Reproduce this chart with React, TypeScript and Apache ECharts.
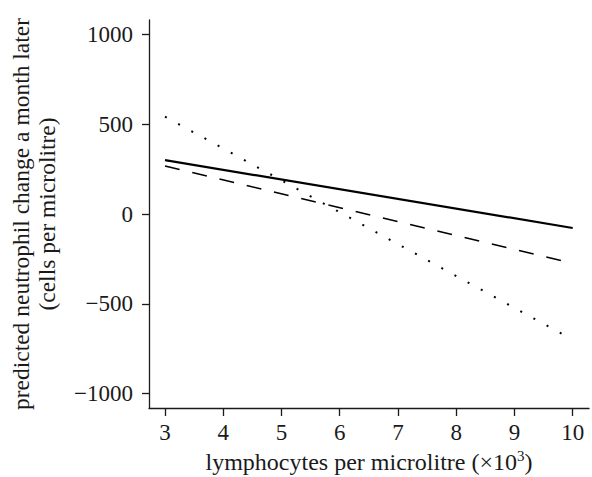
import React, { useEffect, useRef } from "react";
import * as echarts from "echarts";

const xEnds = [3, 10];
const solidValues = [300, -78];
const dashedValues = [267, -275];
const dottedValues = [542, -700];
const xTicks = [3, 4, 5, 6, 7, 8, 9, 10];
const yTicks = [-1000, -500, 0, 500, 1000];

const FONT = "'Liberation Serif', 'DejaVu Serif', serif";
const INK = "#1a1a1a";

const fmt = (v: number) => (v < 0 ? "\u2212" + Math.abs(v) : String(v));

export default function App() {
  const ref = useRef<HTMLDivElement>(null);
  useEffect(() => {
    if (!ref.current) return;
    const chart = echarts.init(ref.current, null, { renderer: "svg" });
    const pts = (vals: number[]) => xEnds.map((x, i) => [x, vals[i]]);
    chart.setOption({
      animation: false,
      backgroundColor: "#ffffff",
      grid: { left: 149, top: 20, right: 3, bottom: 69, containLabel: false, outerBoundsMode: "none" },
      xAxis: {
        type: "value",
        min: 2.725,
        max: 10.28,
        name: "lymphocytes per microlitre (×10{sup|3})",
        nameLocation: "middle",
        nameGap: 38,
        nameTextStyle: {
          fontFamily: FONT,
          fontSize: 24,
          color: INK,
          rich: {
            sup: { fontFamily: FONT, fontSize: 15, color: INK, padding: [0, 0, 11, 0] },
          },
        },
        splitLine: { show: false },
        axisLine: { show: true, onZero: false, lineStyle: { color: INK, width: 1.3 } },
        axisTick: { show: true, inside: false, length: 8, customValues: xTicks, lineStyle: { color: INK, width: 1.3 } },
        axisLabel: { show: true, customValues: xTicks, margin: 13, fontFamily: FONT, fontSize: 23, color: INK, formatter: fmt },
      },
      yAxis: {
        type: "value",
        min: -1080,
        max: 1080,
        name: "predicted neutrophil change a month later\n(cells per microlitre)",
        nameLocation: "middle",
        nameRotate: 90,
        nameGap: 89,
        nameTextStyle: { fontFamily: FONT, fontSize: 23.5, color: INK, lineHeight: 26, align: "center" },
        splitLine: { show: false },
        axisLine: { show: true, onZero: false, lineStyle: { color: INK, width: 1.3 } },
        axisTick: { show: true, inside: false, length: 7, customValues: yTicks, lineStyle: { color: INK, width: 1.3 } },
        axisLabel: { show: true, customValues: yTicks, margin: 16, fontFamily: FONT, fontSize: 23, color: INK, formatter: fmt },
      },
      series: [
        {
          type: "line",
          data: pts(solidValues),
          showSymbol: false,
          symbol: "none",
          lineStyle: { color: "#000", width: 2.2, type: "solid" },
        },
        {
          type: "line",
          data: pts(dashedValues),
          showSymbol: false,
          symbol: "none",
          lineStyle: { color: "#000", width: 1.6, type: [15, 13] },
        },
        {
          type: "line",
          data: pts(dottedValues),
          showSymbol: false,
          symbol: "none",
          lineStyle: { color: "#000", width: 2, type: [2, 13] },
        },
      ],
    });
    return () => chart.dispose();
  }, []);
  return (
    <div
      ref={ref}
      style={{ position: "fixed", left: 0, top: 0, width: 592, height: 477 }}
    />
  );
}
